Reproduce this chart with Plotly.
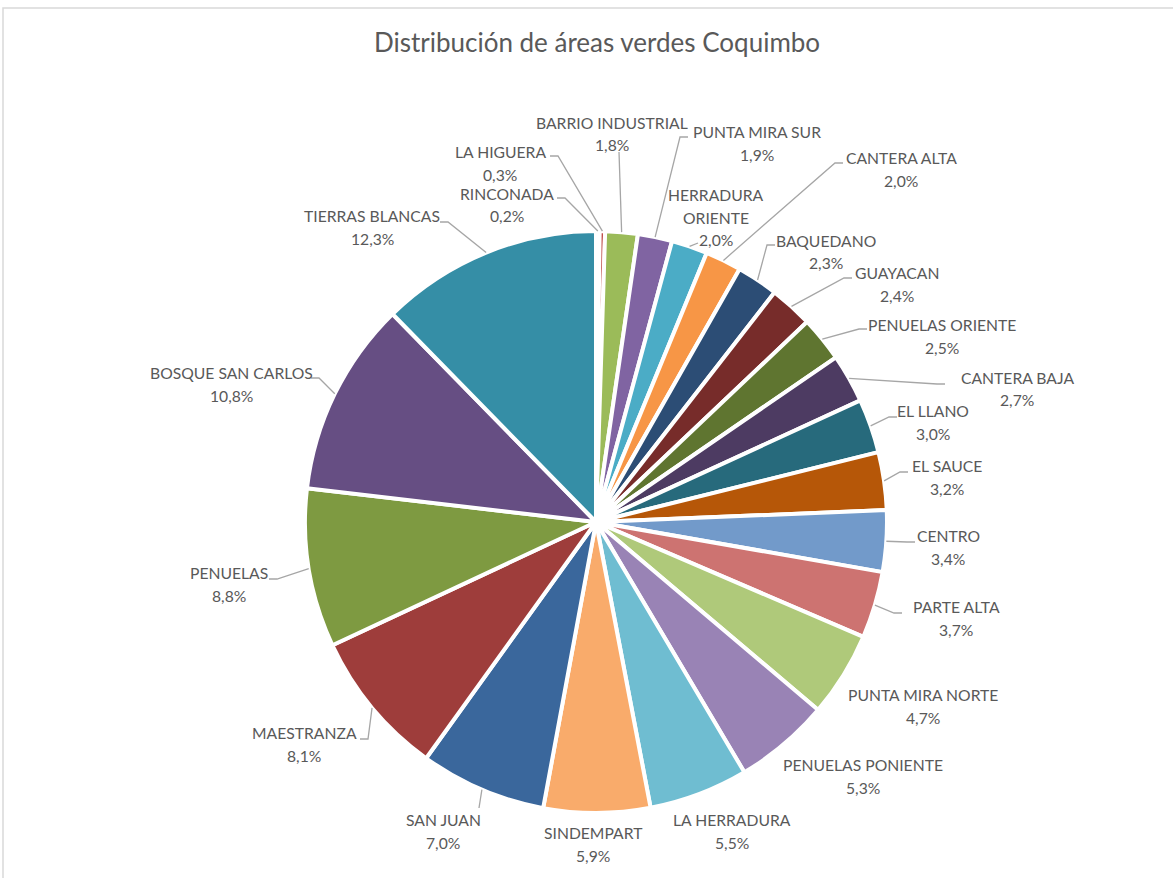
import math
import plotly.graph_objects as go

# ---------------- data ----------------
labels = ["RINCONADA", "LA HIGUERA", "BARRIO INDUSTRIAL", "PUNTA MIRA SUR",
          "HERRADURA ORIENTE", "CANTERA ALTA", "BAQUEDANO", "GUAYACAN",
          "PENUELAS ORIENTE", "CANTERA BAJA", "EL LLANO", "EL SAUCE", "CENTRO",
          "PARTE ALTA", "PUNTA MIRA NORTE", "PENUELAS PONIENTE", "LA HERRADURA",
          "SINDEMPART", "SAN JUAN", "MAESTRANZA", "PENUELAS", "BOSQUE SAN CARLOS",
          "TIERRAS BLANCAS"]
values = [0.2, 0.3, 1.8, 1.9, 2.0, 2.0, 2.3, 2.4, 2.5, 2.7, 3.0, 3.2, 3.4,
          3.7, 4.7, 5.3, 5.5, 5.9, 7.0, 8.1, 8.8, 10.8, 12.3]
colors = ["#4F81BD", "#C0504D", "#9BBB59", "#8064A2", "#4BACC6", "#F79646",
          "#2C4D75", "#772C2A", "#5F7530", "#4D3B62", "#276A7C", "#B65708",
          "#729ACA", "#CD7371", "#AFC97A", "#9983B5", "#6FBDD1", "#F9AB6B",
          "#3A679C", "#9E3D3B", "#7E9A41", "#664E83", "#358EA6"]

# ---------------- layout (label placement, pixels) ----------------
W, H = 1173, 878
cx, cy, r = 596, 522, 291
# name-line centre x, name-line y, leader side, leader end near text (x, y)
label_pos = {
    "RINCONADA":          (507, 194, "r", (557, 198)),
    "LA HIGUERA":         (500, 152, "r", (550, 156)),
    "BARRIO INDUSTRIAL":  (612, 123, "d", (619, 152)),
    "PUNTA MIRA SUR":     (757, 132, "l", (688, 137)),
    "HERRADURA ORIENTE":  (716, 195, "d", (698, 243)),
    "CANTERA ALTA":       (901, 158, "l", (843, 163)),
    "BAQUEDANO":          (826, 241, "l", (775, 245)),
    "GUAYACAN":           (897, 273, "l", (852, 278)),
    "PENUELAS ORIENTE":   (942, 325, "l", (867, 329)),
    "CANTERA BAJA":       (1017, 378, "l", (945, 384)),
    "EL LLANO":           (933, 411, "l", (897, 417)),
    "EL SAUCE":           (947, 466, "l", (908, 472)),
    "CENTRO":             (948, 536, "l", (915, 542)),
    "PARTE ALTA":         (956, 607, "l", (902, 613)),
    "PUNTA MIRA NORTE":   (923, 695, None, None),
    "PENUELAS PONIENTE":  (863, 765, None, None),
    "LA HERRADURA":       (732, 820, None, None),
    "SINDEMPART":         (593, 833, None, None),
    "SAN JUAN":           (443, 820, "d", (479, 808)),
    "MAESTRANZA":         (304, 733, "r", (360, 739)),
    "PENUELAS":           (229, 573, "r", (269, 579)),
    "BOSQUE SAN CARLOS":  (231, 373, "r", (311, 378)),
    "TIERRAS BLANCAS":    (372, 216, "r", (440, 222)),
}
wrap = {"HERRADURA ORIENTE": ["HERRADURA", "ORIENTE"]}

FONT = "Lato, Open Sans, sans-serif"
TXT = "#595959"
LINE = "#A6A6A6"
LINE_H = 22.5


def px(x):
    return x / W


def py(y):
    return 1 - y / H


fig = go.Figure(go.Pie(
    labels=labels,
    values=values,
    textinfo="none",
    sort=False,
    direction="clockwise",
    rotation=0,
    marker=dict(colors=colors, line=dict(color="white", width=4)),
    showlegend=False,
    hoverinfo="label+percent",
    domain=dict(x=[px(cx - r), px(cx + r)], y=[py(cy + r), py(cy - r)]),
))

annotations = []
shapes = [dict(type="rect", xref="paper", yref="paper",
               x0=px(3), x1=1.05, y0=-0.05, y1=py(8),
               line=dict(color="#D9D9D9", width=1.5), fillcolor="rgba(0,0,0,0)",
               layer="below")]

total = sum(values)
cum = 0.0
for lab, v in zip(labels, values):
    mid = (cum + v / 2) / total * 2 * math.pi
    cum += v
    ex = cx + r * math.sin(mid)
    ey = cy - r * math.cos(mid)
    tx, ty, side, end = label_pos[lab]
    lines = wrap.get(lab, [lab]) + [f"{v:.1f}".replace(".", ",") + "%"]
    for i, t in enumerate(lines):
        annotations.append(dict(
            x=px(tx), y=py(ty + i * LINE_H), xref="paper", yref="paper",
            text=t, showarrow=False, xanchor="center", yanchor="middle",
            font=dict(family=FONT, size=15.7, color=TXT)))
    if side is None:
        continue
    ax, ay = end
    if side == "r":
        pts = [(ax, ay), (ax + 8, ay), (ex, ey)]
    elif side == "l":
        pts = [(ax, ay), (ax - 8, ay), (ex, ey)]
    else:
        pts = [(ax, ay), (ex, ey)]
    path = "M " + " L ".join(f"{px(a):.5f},{py(b):.5f}" for a, b in pts)
    shapes.append(dict(type="path", xref="paper", yref="paper", path=path,
                       line=dict(color=LINE, width=1.3)))

fig.update_layout(
    width=W, height=H,
    margin=dict(l=0, r=0, t=0, b=0),
    paper_bgcolor="white",
    title=dict(text="Distribución de áreas verdes Coquimbo",
               font=dict(family=FONT, size=26, color=TXT),
               x=px(597), xanchor="center", y=py(43), yanchor="middle"),
    annotations=annotations,
    shapes=shapes,
)

fig.write_html("out.html", config={"displayModeBar": False},
               post_script="document.body.style.margin='0';")
